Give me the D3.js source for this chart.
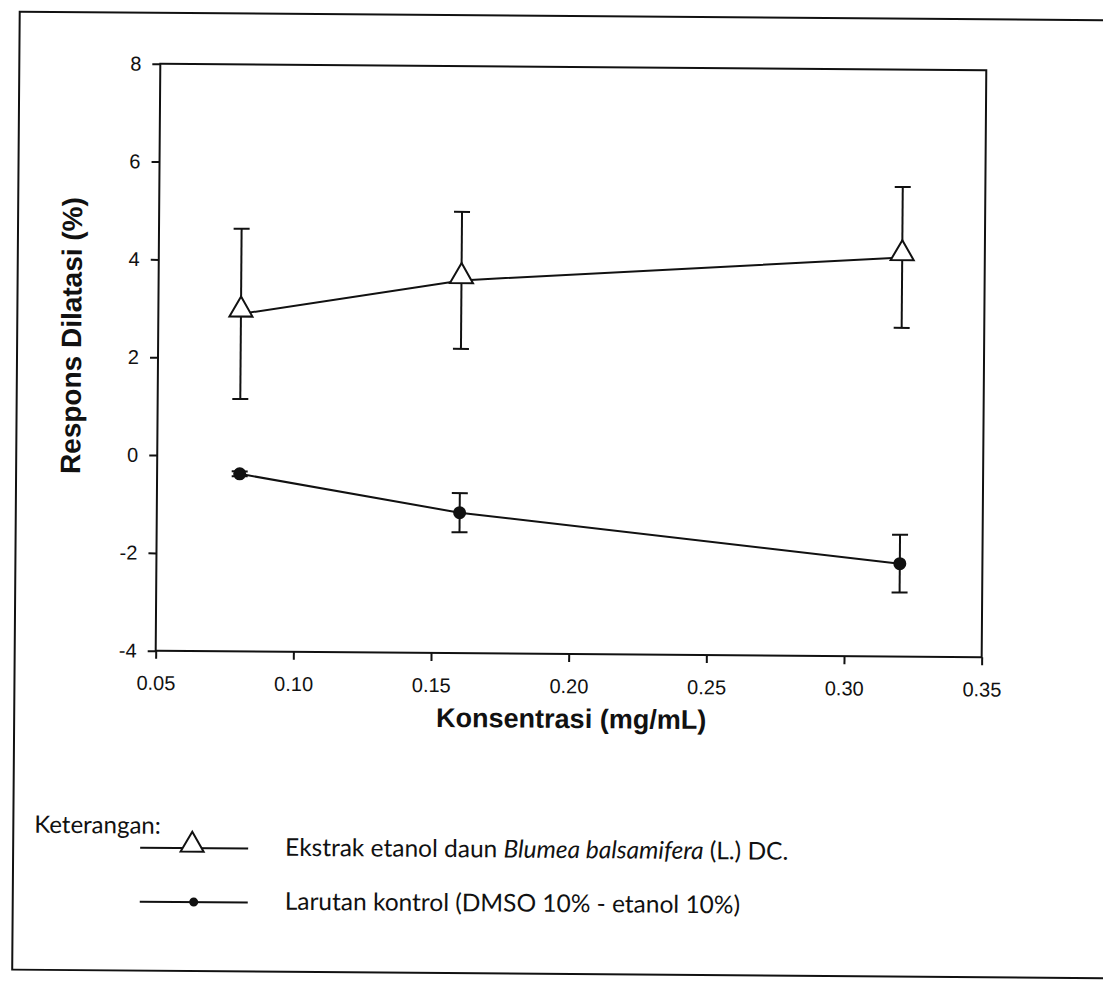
<!DOCTYPE html>
<html>
<head>
<meta charset="utf-8">
<script src="https://cdn.jsdelivr.net/npm/d3@7"></script>
<style>
  body { margin: 0; background: #fff; }
  svg { display: block; }
</style>
</head>
<body>
<svg id="chart" width="1103" height="985"></svg>
<script>
// data
var concentrations = [0.08, 0.16, 0.32];
var ekstrakMean = [2.9, 3.62, 4.16];
var ekstrakErr = [1.74, 1.40, 1.44];
var kontrolMean = [-0.37, -1.13, -2.10];
var kontrolErr = [0.05, 0.40, 0.59];
var xTicks = [0.05, 0.10, 0.15, 0.20, 0.25, 0.30, 0.35];
var yTicks = [-4, -2, 0, 2, 4, 6, 8];

// the scanned page is a little tilted, so everything is turned slightly
var root = d3.select("#chart").append("g")
    .attr("transform", "rotate(0.45, 571, 360)");

// outer frame of the figure
root.append("rect")
    .attr("x", 17).attr("y", 16)
    .attr("width", 1100).attr("height", 958)
    .attr("fill", "none").attr("stroke", "#111").attr("stroke-width", 2);

var margin = {top: 67, left: 158},
    width = 826,
    height = 587;

var g = root.append("g")
    .attr("transform", "translate(" + margin.left + "," + margin.top + ")");

var x = d3.scaleLinear().domain([0.05, 0.35]).range([0, width]);
var y = d3.scaleLinear().domain([-4, 8]).range([height, 0]);

// plot box
g.append("rect")
    .attr("width", width).attr("height", height)
    .attr("fill", "none").attr("stroke", "#111").attr("stroke-width", 2);

var xAxis = g.append("g")
    .attr("transform", "translate(0," + height + ")")
    .call(d3.axisBottom(x).tickValues(xTicks).tickFormat(d3.format(".2f")).tickSize(8).tickPadding(17));
var yAxis = g.append("g")
    .call(d3.axisLeft(y).tickValues(yTicks).tickFormat(function(d) { return String(d); }).tickSize(8).tickPadding(11));

[xAxis, yAxis].forEach(function(a) {
    a.select(".domain").remove();
    a.selectAll("line").attr("stroke", "#111").attr("stroke-width", 2);
    a.selectAll("text")
        .attr("fill", "#111")
        .style("font-family", "'Liberation Sans', Arial, sans-serif")
        .style("font-size", "20px");
});

// axis titles
g.append("text")
    .attr("transform", "translate(-77," + (height / 2 - 21) + ") rotate(-90)")
    .attr("text-anchor", "middle")
    .style("font-family", "'Liberation Sans', Arial, sans-serif")
    .style("font-size", "28px")
    .style("font-weight", "bold")
    .attr("fill", "#111")
    .text("Respons Dilatasi (%)");

g.append("text")
    .attr("x", x(0.20) + 3)
    .attr("y", height + 74)
    .attr("text-anchor", "middle")
    .style("font-family", "'Liberation Sans', Arial, sans-serif")
    .style("font-size", "27px")
    .style("font-weight", "bold")
    .attr("fill", "#111")
    .text("Konsentrasi (mg/mL)");

var series = [
    {name: "ekstrak", mean: ekstrakMean, err: ekstrakErr},
    {name: "kontrol", mean: kontrolMean, err: kontrolErr}
];

var line = d3.line()
    .x(function(d) { return x(d.x); })
    .y(function(d) { return y(d.y); });

var triangle = d3.symbol().type(d3.symbolTriangle).size(230);

series.forEach(function(s) {
    var pts = concentrations.map(function(c, i) {
        return {x: c, y: s.mean[i], e: s.err[i]};
    });

    g.append("path")
        .datum(pts)
        .attr("d", line)
        .attr("fill", "none")
        .attr("stroke", "#111")
        .attr("stroke-width", 2);

    var eb = g.selectAll(".eb-" + s.name)
        .data(pts)
        .enter().append("g")
        .attr("class", "eb-" + s.name)
        .attr("stroke", "#111")
        .attr("stroke-width", 2);
    eb.append("line")
        .attr("x1", function(d) { return x(d.x); })
        .attr("x2", function(d) { return x(d.x); })
        .attr("y1", function(d) { return y(d.y + d.e); })
        .attr("y2", function(d) { return y(d.y - d.e); });
    eb.append("line")
        .attr("x1", function(d) { return x(d.x) - 8; })
        .attr("x2", function(d) { return x(d.x) + 8; })
        .attr("y1", function(d) { return y(d.y + d.e); })
        .attr("y2", function(d) { return y(d.y + d.e); });
    eb.append("line")
        .attr("x1", function(d) { return x(d.x) - 8; })
        .attr("x2", function(d) { return x(d.x) + 8; })
        .attr("y1", function(d) { return y(d.y - d.e); })
        .attr("y2", function(d) { return y(d.y - d.e); });

    if (s.name === "ekstrak") {
        g.selectAll(".mk-" + s.name)
            .data(pts)
            .enter().append("path")
            .attr("d", triangle)
            .attr("transform", function(d) { return "translate(" + x(d.x) + "," + (y(d.y) - 4) + ")"; })
            .attr("fill", "#fff")
            .attr("stroke", "#111")
            .attr("stroke-width", 2);
    } else {
        g.selectAll(".mk-" + s.name)
            .data(pts)
            .enter().append("circle")
            .attr("cx", function(d) { return x(d.x); })
            .attr("cy", function(d) { return y(d.y); })
            .attr("r", 6.5)
            .attr("fill", "#111");
    }
});

// legend
var legendFont = "Lato, 'Open Sans', sans-serif";
root.append("text")
    .attr("x", 38).attr("y", 837)
    .style("font-family", legendFont)
    .style("font-size", "24px")
    .attr("fill", "#111")
    .text("Keterangan:");

var lg1 = root.append("g");
lg1.append("line").attr("x1", 144).attr("x2", 252).attr("y1", 851).attr("y2", 851)
    .attr("stroke", "#111").attr("stroke-width", 2);
lg1.append("path").attr("d", triangle).attr("transform", "translate(196,848)")
    .attr("fill", "#fff").attr("stroke", "#111").attr("stroke-width", 2);
var t1 = lg1.append("text")
    .attr("x", 289).attr("y", 858)
    .style("font-family", legendFont)
    .style("font-size", "24.5px")
    .attr("fill", "#111");
t1.append("tspan").text("Ekstrak etanol daun ");
t1.append("tspan").style("font-style", "italic").text("Blumea balsamifera");
t1.append("tspan").text(" (L.) DC.");

var lg2 = root.append("g");
lg2.append("line").attr("x1", 144).attr("x2", 252).attr("y1", 905).attr("y2", 905)
    .attr("stroke", "#111").attr("stroke-width", 2);
lg2.append("circle").attr("cx", 198).attr("cy", 905).attr("r", 4.5).attr("fill", "#111");
lg2.append("text")
    .attr("x", 289).attr("y", 912)
    .style("font-family", legendFont)
    .style("font-size", "24.5px")
    .attr("fill", "#111")
    .text("Larutan kontrol (DMSO 10% - etanol 10%)");
</script>
</body>
</html>
